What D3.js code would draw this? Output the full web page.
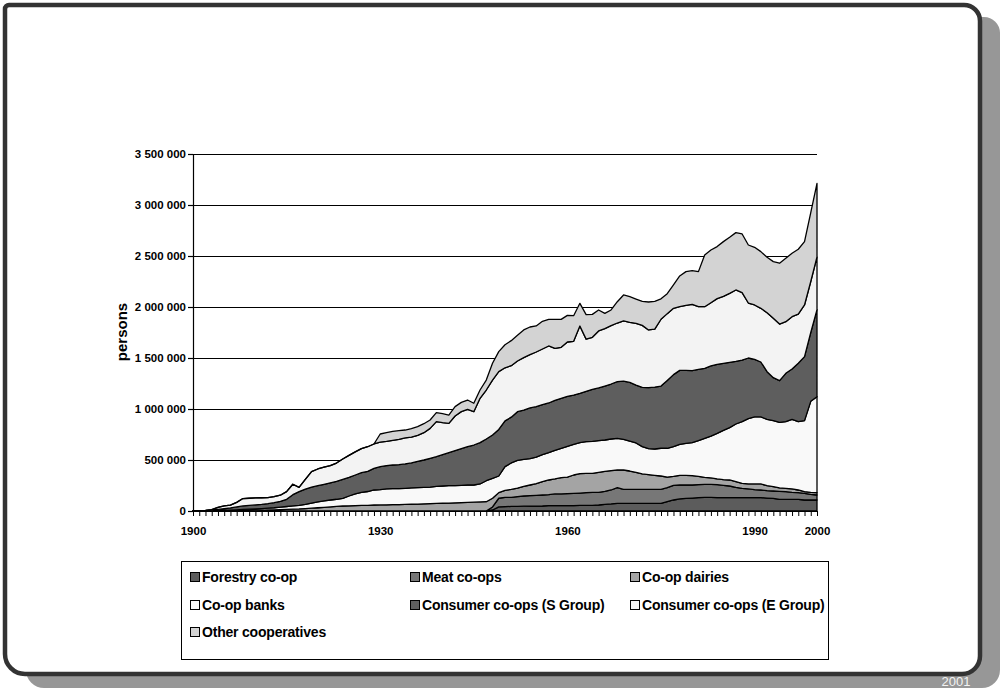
<!DOCTYPE html>
<html>
<head>
<meta charset="utf-8">
<script src="https://cdn.jsdelivr.net/npm/d3@7"></script>
<style>
  html, body { margin: 0; padding: 0; background: #ffffff; }
  svg { display: block; font-family: "Liberation Sans", Arial, sans-serif; }
</style>
</head>
<body>
<svg id="chart" width="1000" height="689"></svg>
<script>
// Members of Finnish cooperatives, 1900-2000 (thousand persons, one value per year)
const years = d3.range(1900, 2001);

const forestry = [
  0,0,0,0,0,0,0,0,0,0,
  0,0,0,0,0,0,0,0,0,0,
  0,0,0,0,0,0,0,0,0,0,
  0,0,0,0,0,0,0,0,0,0,
  0,0,0,0,0,0,0,0,10,40,
  42,45,45,47,48,48,49,52,52,52,
  52,52,55,55,55,59,65,69,75,75,
  75,75,75,75,75,75,92,108,118,124,
  127,131,134,134,131,131,131,131,131,131,
  131,131,127,124,114,114,114,114,108,108,
  108
];
const meat = [
  0,0,0,0,0,0,0,0,0,0,
  0,0,0,0,0,0,0,0,0,0,
  0,0,0,0,0,0,0,0,0,0,
  0,0,0,0,0,0,0,0,0,0,
  0,0,0,0,0,0,0,0,30,85,
  92,89,96,100,102,106,108,108,115,115,
  118,121,121,125,128,124,128,137,154,137,
  137,137,137,137,137,137,137,144,137,131,
  128,127,127,127,127,121,114,101,91,85,
  78,75,72,72,79,75,69,66,65,55,
  49
];
const dairies = [
  0,0,0,1,2,3,4,5,6,7,
  8,9,10,12,14,16,18,20,24,28,
  32,36,40,45,49,51,53,55,56,59,
  60,61,62,63,64,66,68,70,72,74,
  76,78,80,82,85,87,89,91,85,55,
  69,78,84,95,105,114,131,144,147,160,
  163,180,190,189,186,196,196,190,173,190,
  180,167,151,144,138,131,104,88,95,95,
  91,82,69,63,56,55,59,56,49,49,
  56,59,49,43,33,33,33,26,17,20,
  23
];
const banks = [
  0,0,1,2,3,4,5,7,9,11,
  13,15,18,20,24,28,32,36,42,50,
  58,64,68,70,75,96,114,128,135,147,
  149,155,157,156,158,160,161,162,163,168,
  169,170,168,170,170,168,176,206,195,163,
  232,259,272,265,258,261,264,268,281,287,
  301,301,304,311,314,311,307,310,310,301,
  294,288,268,255,258,272,282,291,304,313,
  324,350,382,411,447,484,513,565,605,640,
  657,657,651,647,643,654,683,670,696,892,
  940
];
const sGroup = [
  0,0,2,5,10,15,21,28,35,37,
  39,41,44,50,57,71,110,134,149,157,
  158,162,168,175,186,183,186,193,198,212,
  226,229,232,235,239,245,258,268,281,291,
  307,324,344,359,376,392,405,409,425,457,
  449,449,477,483,497,494,491,487,490,491,
  490,483,484,493,510,516,529,539,556,571,
  575,568,581,598,607,610,665,706,725,716,
  706,699,687,687,677,657,641,614,604,595,
  565,539,467,421,409,474,493,572,627,675,
  855
];
const eGroup = [
  0,0,2,6,20,28,28,45,72,70,
  68,65,60,58,60,75,102,42,95,151,
  164,168,169,180,200,215,227,236,241,239,
  241,238,242,249,255,254,255,268,294,343,
  314,287,339,363,366,327,435,480,539,566,
  520,505,497,514,523,536,545,559,510,500,
  533,527,660,512,510,559,563,572,575,589,
  589,605,608,566,569,655,655,650,624,637,
  650,614,604,620,644,657,676,700,661,539,
  533,526,578,582,555,506,513,483,507,500,
  515
];
const other = [
  0,0,0,0,0,0,0,0,0,0,
  0,0,0,0,0,0,0,0,0,0,
  0,0,0,0,0,0,0,0,0,0,
  79,85,88,84,78,82,85,88,82,88,
  88,82,92,91,91,82,81,98,164,196,
  226,245,251,271,271,255,272,261,284,274,
  261,251,222,240,225,206,150,154,209,255,
  251,238,235,274,271,200,195,229,301,331,
  330,344,507,517,510,536,549,562,575,569,
  565,556,543,556,596,622,622,635,621,675,
  722
];

const seriesNames = [
  "Forestry co-op", "Meat co-ops", "Co-op dairies", "Co-op banks",
  "Consumer co-ops (S Group)", "Consumer co-ops (E Group)", "Other cooperatives"
];
const seriesValues = [forestry, meat, dairies, banks, sGroup, eGroup, other];
const seriesFills = ["#5c5c5c", "#777777", "#a4a4a4", "#f9f9f9", "#5e5e5e", "#f3f3f3", "#d3d3d3"];

const yTicks = [0, 500, 1000, 1500, 2000, 2500, 3000, 3500];   // thousand persons
const xLabelYears = [1900, 1930, 1960, 1990, 2000];

const svg = d3.select("#chart");

// ---- slide frame with drop shadow ----
function roundedPath(x0, y0, x1, y1, rTL, rTR, rBR, rBL) {
  const p = d3.path();
  p.moveTo(x0 + rTL, y0);
  p.lineTo(x1 - rTR, y0);
  p.arcTo(x1, y0, x1, y0 + rTR, rTR);
  p.lineTo(x1, y1 - rBR);
  p.arcTo(x1, y1, x1 - rBR, y1, rBR);
  p.lineTo(x0 + rBL, y1);
  p.arcTo(x0, y1, x0, y1 - rBL, rBL);
  p.lineTo(x0, y0 + rTL);
  p.arcTo(x0, y0, x0 + rTL, y0, rTL);
  p.closePath();
  return p.toString();
}
svg.append("path")
  .attr("d", roundedPath(26, 17, 1000, 688, 16, 16, 18, 18))
  .attr("fill", "#979797");
svg.append("path")
  .attr("d", roundedPath(5, 5, 980, 674, 4, 16, 18, 20))
  .attr("fill", "#ffffff")
  .attr("stroke", "#333333")
  .attr("stroke-width", 4.5);
svg.append("text")
  .attr("x", 956).attr("y", 686)
  .attr("text-anchor", "middle")
  .attr("font-size", 13)
  .attr("fill", "#f2f2f2")
  .text("2001");

// ---- scales ----
const x = d3.scaleLinear().domain([1900, 2000]).range([193, 817]);
const y = d3.scaleLinear().domain([0, 3500]).range([511, 154]);

// ---- gridlines ----
svg.append("g")
  .attr("transform", `translate(${x(1900)},0)`)
  .call(d3.axisLeft(y).tickValues(yTicks.slice(1)).tickSize(-(x(2000) - x(1900))).tickFormat(""))
  .call(g => g.select(".domain").remove())
  .call(g => g.selectAll("line").attr("stroke", "#000").attr("stroke-width", 1));

// ---- stacked areas ----
const table = years.map((yr, i) => {
  const row = { year: yr };
  seriesNames.forEach((n, k) => { row[n] = seriesValues[k][i]; });
  return row;
});
const stacked = d3.stack().keys(seriesNames)(table);
const area = d3.area()
  .x(d => x(d.data.year))
  .y0(d => y(d[0]))
  .y1(d => y(d[1]));

svg.append("g")
  .selectAll("path")
  .data(stacked)
  .join("path")
  .attr("d", area)
  .attr("fill", (d, i) => seriesFills[i])
  .attr("stroke", "#000")
  .attr("stroke-width", 1.3)
  .attr("stroke-linejoin", "round");

// ---- axes ----
const fmt = v => d3.format(",")(v * 1000).replace(/,/g, " ");
svg.append("g")
  .attr("transform", `translate(${x(1900)},0)`)
  .call(d3.axisLeft(y).tickValues(yTicks).tickSize(5).tickSizeOuter(0).tickPadding(2).tickFormat(fmt))
  .call(g => g.selectAll("path,line").attr("stroke", "#000").attr("stroke-width", 1.2))
  .call(g => g.selectAll("text")
    .attr("font-family", "'Liberation Sans', Arial, sans-serif")
    .attr("font-size", 11.5).attr("font-weight", "bold").attr("fill", "#000"));

svg.append("g")
  .attr("transform", `translate(0,${y(0)})`)
  .call(d3.axisBottom(x).tickValues(years).tickSize(5).tickSizeOuter(0).tickPadding(11)
    .tickFormat(d => xLabelYears.includes(d) ? String(d) : ""))
  .call(g => g.selectAll("path,line").attr("stroke", "#000").attr("stroke-width", 1))
  .call(g => g.selectAll("text")
    .attr("font-family", "'Liberation Sans', Arial, sans-serif")
    .attr("font-size", 11.5).attr("font-weight", "bold").attr("fill", "#000"));

svg.append("text")
  .attr("transform", "translate(127,332) rotate(-90)")
  .attr("text-anchor", "middle")
  .attr("font-size", 15)
  .attr("font-weight", "bold")
  .attr("fill", "#000")
  .text("persons");

// ---- legend ----
const legend = svg.append("g");
legend.append("rect")
  .attr("x", 181.5).attr("y", 561.5).attr("width", 647).attr("height", 98)
  .attr("fill", "#fff").attr("stroke", "#000").attr("stroke-width", 1);
const colX = [190, 410, 630];
const rowY = [577, 605, 632];
seriesNames.forEach((name, i) => {
  const cx = colX[i % 3], cy = rowY[Math.floor(i / 3)];
  const item = legend.append("g").attr("transform", `translate(${cx},${cy})`);
  item.append("rect")
    .attr("x", 0.5).attr("y", -4.5).attr("width", 9).attr("height", 9)
    .attr("fill", seriesFills[i]).attr("stroke", "#000").attr("stroke-width", 1);
  item.append("text")
    .attr("x", 12).attr("y", 5)
    .attr("font-size", 14).attr("font-weight", "bold").attr("fill", "#000")
    .attr("letter-spacing", -0.2)
    .text(name);
});
</script>
</body>
</html>
